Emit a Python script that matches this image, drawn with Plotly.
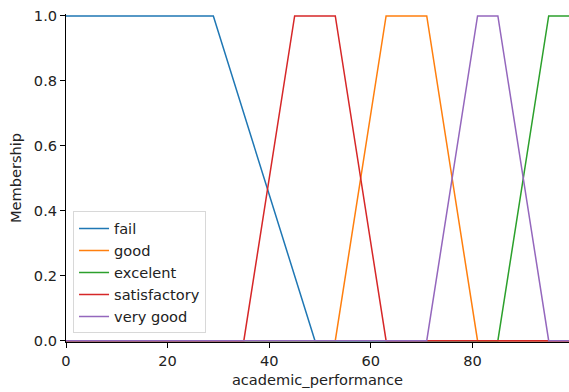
import plotly.graph_objects as go

# Breakpoints of each membership function (x, membership)
fail_x = [0, 29, 49, 99]
fail_y = [1, 1, 0, 0]
good_x = [0, 53, 63, 71, 81, 99]
good_y = [0, 0, 1, 1, 0, 0]
excelent_x = [0, 85, 95, 99]
excelent_y = [0, 0, 1, 1]
satisfactory_x = [0, 35, 45, 53, 63, 99]
satisfactory_y = [0, 0, 1, 1, 0, 0]
very_good_x = [0, 71, 81, 85, 95, 99]
very_good_y = [0, 0, 1, 1, 0, 0]

names = ["fail", "good", "excelent", "satisfactory", "very good"]
xs = [fail_x, good_x, excelent_x, satisfactory_x, very_good_x]
ys = [fail_y, good_y, excelent_y, satisfactory_y, very_good_y]
colors = ["#1f77b4", "#ff7f0e", "#2ca02c", "#d62728", "#9467bd"]

x_ticks = [0, 20, 40, 60, 80]
y_ticks = [0.0, 0.2, 0.4, 0.6, 0.8, 1.0]

fig = go.Figure()
for n, x, y, c in zip(names, xs, ys, colors):
    fig.add_trace(go.Scatter(x=x, y=y, mode="lines", name=n,
                             line=dict(color=c, width=1.5)))

font = dict(family="DejaVu Sans", size=14.6, color="#222")
fig.update_layout(
    width=569, height=392,
    margin=dict(l=66, r=0, t=14, b=50, pad=0),
    paper_bgcolor="white", plot_bgcolor="white",
    font=font,
    showlegend=True,
    legend=dict(x=0.014, y=0.026, xanchor="left", yanchor="bottom",
                bgcolor="rgba(255,255,255,0.8)", bordercolor="#d8d8d8",
                borderwidth=1, font=font, itemwidth=30),
    xaxis=dict(range=[0, 99], tickvals=x_ticks, ticks="outside", ticklen=5,
               tickcolor="black", showline=True, linecolor="black", linewidth=1,
               showgrid=False, zeroline=False, mirror=False,
               title=dict(text="academic_performance", font=font, standoff=7)),
    yaxis=dict(range=[-0.004, 1.006], tickvals=y_ticks, tickformat=".1f",
               ticks="outside", ticklen=5, tickcolor="black", showline=True,
               linecolor="black", linewidth=1, showgrid=False, zeroline=False,
               title=dict(text="Membership", font=font, standoff=8)),
)

fig.write_html("out.html")
